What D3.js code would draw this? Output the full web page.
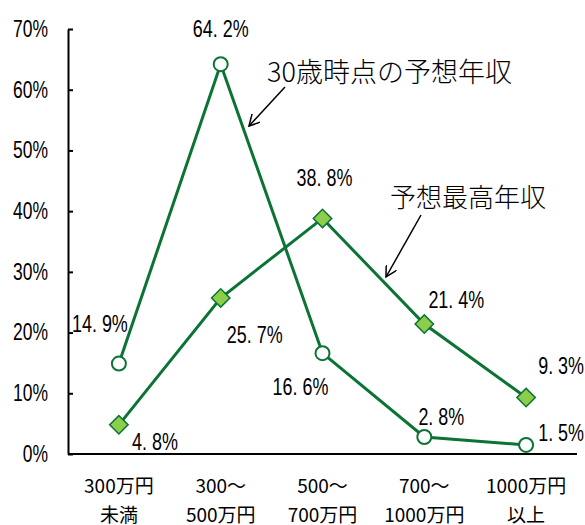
<!DOCTYPE html>
<html>
<head>
<meta charset="utf-8">
<script src="https://cdn.jsdelivr.net/npm/d3@7"></script>
<style>
  body { margin: 0; background: #fff; }
  svg { display: block; }
</style>
</head>
<body>
<svg id="chart"></svg>
<script>
// data
const categories = [
  ["300万円", "未満"],
  ["300～", "500万円"],
  ["500～", "700万円"],
  ["700～", "1000万円"],
  ["1000万円", "以上"],
]
const at30 = [14.9, 64.2, 16.6, 2.8, 1.5]
const peak = [4.8, 25.7, 38.8, 21.4, 9.3]
const yTicks = [0, 10, 20, 30, 40, 50, 60, 70]

// label offsets from each point
const at30Offsets = [[-19, -40], [0, -36], [-22, 33], [17, -20], [35, -12]]
const peakOffsets = [[36, 17], [34, 37], [2, -41], [32, -24], [35, -32]]

const width = 585
const height = 525
const margin = { top: 29, right: 8, bottom: 71, left: 68 }
const boundedWidth = width - margin.left - margin.right
const boundedHeight = height - margin.top - margin.bottom

const green = "#0b7434"
const lightGreen = "#8ccd4c"
const narrow = 0.78

const svg = d3.select("#chart").attr("width", width).attr("height", height)

svg.append("defs").append("marker")
  .attr("id", "arrow")
  .attr("viewBox", "0 0 12 12")
  .attr("refX", 11).attr("refY", 6)
  .attr("markerWidth", 12).attr("markerHeight", 12)
  .attr("markerUnits", "userSpaceOnUse")
  .attr("orient", "auto")
  .append("path")
  .attr("d", "M0,0 L11,6 L0,12")
  .attr("fill", "none")
  .attr("stroke", "#000")
  .attr("stroke-width", 1.5)

const bounds = svg.append("g")
  .attr("transform", `translate(${margin.left},${margin.top})`)

// scales
const xScale = d3.scaleBand()
  .domain(d3.range(categories.length))
  .range([0, boundedWidth])

const yScale = d3.scaleLinear()
  .domain([0, 70])
  .range([boundedHeight, 0])

const xPos = (i) => xScale(i) + xScale.bandwidth() / 2

// axes
const yAxis = bounds.append("g")
  .call(d3.axisLeft(yScale)
    .tickValues(yTicks)
    .tickFormat((d) => d + "%")
    .tickSizeInner(-5)
    .tickSizeOuter(0)
    .tickPadding(20))
yAxis.selectAll("path, line").attr("stroke", "#000").attr("stroke-width", 2)
yAxis.selectAll("text")
  .attr("font-family", "'Liberation Sans', Arial, sans-serif")
  .attr("font-size", 23)
  .attr("fill", "#000")
  .attr("x", -20 / 0.76)
  .attr("transform", "scale(0.76,1)")

bounds.append("line")
  .attr("x1", 0).attr("x2", boundedWidth)
  .attr("y1", boundedHeight).attr("y2", boundedHeight)
  .attr("stroke", "#000").attr("stroke-width", 2)

const xLabels = bounds.append("g")
  .attr("font-family", "'Noto Sans CJK JP', sans-serif")
  .attr("font-size", 19)
  .attr("text-anchor", "middle")
categories.forEach((lines, i) => {
  lines.forEach((t, j) => {
    xLabels.append("text")
      .attr("x", xPos(i))
      .attr("y", boundedHeight + 30 + j * 29)
      .attr("dominant-baseline", "central")
      .text(t)
  })
})

// lines
const lineGenerator = d3.line()
  .x((d, i) => xPos(i))
  .y((d) => yScale(d))

;[at30, peak].forEach((series) => {
  bounds.append("path")
    .attr("d", lineGenerator(series))
    .attr("fill", "none")
    .attr("stroke", green)
    .attr("stroke-width", 3)
})

// markers
bounds.selectAll(".at30")
  .data(at30)
  .join("circle")
  .attr("cx", (d, i) => xPos(i))
  .attr("cy", (d) => yScale(d))
  .attr("r", 7)
  .attr("fill", "#fff")
  .attr("stroke", green)
  .attr("stroke-width", 2)

bounds.selectAll(".peak")
  .data(peak)
  .join("path")
  .attr("transform", (d, i) => `translate(${xPos(i)},${yScale(d)}) rotate(45)`)
  .attr("d", "M-6.5,-6.5H6.5V6.5H-6.5Z")
  .attr("fill", lightGreen)
  .attr("stroke", green)
  .attr("stroke-width", 1.5)

// value labels
const labelGroup = bounds.append("g")
  .attr("font-family", "'Liberation Sans', Arial, sans-serif")
  .attr("font-size", 23)
  .attr("text-anchor", "middle")
  .attr("dominant-baseline", "central")

const drawLabels = (series, offsets) => {
  series.forEach((d, i) => {
    labelGroup.append("g")
      .attr("transform", `translate(${xPos(i) + offsets[i][0]},${yScale(d) + offsets[i][1]})`)
      .append("text")
      .attr("transform", `scale(${narrow},1)`)
      .text(d.toFixed(1).replace(".", ". ") + "%")
  })
}
drawLabels(at30, at30Offsets)
drawLabels(peak, peakOffsets)

// annotations
const notes = svg.append("g")
  .attr("font-family", "'Noto Sans CJK JP', sans-serif")
  .attr("font-weight", 300)
  .attr("dominant-baseline", "central")

notes.append("text").attr("x", 267).attr("y", 70)
  .attr("font-size", 27).text("30歳時点の予想年収")
notes.append("text").attr("x", 390).attr("y", 195)
  .attr("font-size", 26).text("予想最高年収")

notes.append("line")
  .attr("x1", 285).attr("y1", 87).attr("x2", 249).attr("y2", 126)
  .attr("stroke", "#000").attr("stroke-width", 1.5)
  .attr("marker-end", "url(#arrow)")
notes.append("line")
  .attr("x1", 421).attr("y1", 215).attr("x2", 386).attr("y2", 277)
  .attr("stroke", "#000").attr("stroke-width", 1.5)
  .attr("marker-end", "url(#arrow)")
</script>
</body>
</html>
